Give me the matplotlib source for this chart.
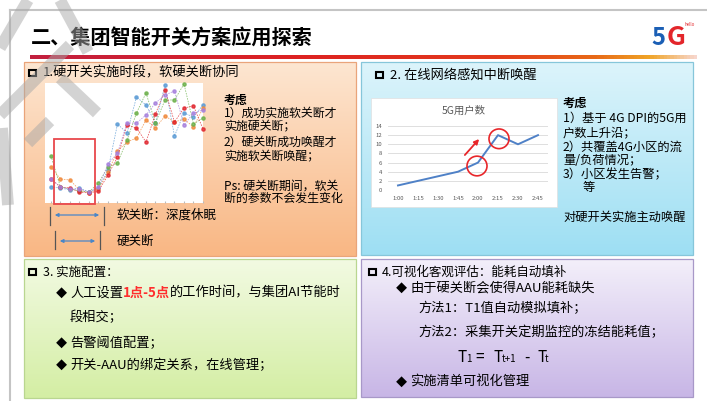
import numpy as np
import matplotlib.pyplot as plt
from matplotlib.patches import Rectangle, Ellipse, FancyArrowPatch
from matplotlib.colors import to_rgb

plt.rcParams['font.family'] = ['Noto Sans CJK SC', 'DejaVu Sans']

W, H = 707, 401

# ---- data: left chart (17 samples per cell, arbitrary load units)
samples = np.arange(17)
cell_blue = [16, 15, 13, 15, 11, 15, 33, 79, 70, 106, 98, 80, 118, 67, 90, 86, 98]
cell_orange = [36, 24, 23, 13, 10, 14, 31, 52, 61, 65, 83, 75, 87, 81, 84, 76, 95]
cell_green = [47, 16, 14, 12, 11, 20, 36, 40, 63, 90, 110, 80, 103, 103, 119, 79, 85]
cell_red = [24, 16, 15, 11, 10, 12, 28, 46, 78, 75, 61, 89, 113, 81, 95, 97, 74]
cell_purple = [24, 16, 14, 14, 11, 16, 39, 50, 80, 80, 88, 100, 108, 112, 78, 90, 93]
cell_colors = ['#5b9bd5', '#f08a3c', '#6bb04a', '#e0262e', '#a57fdc']
sleep_span = (0, 5)   # samples inside the shutdown window

# ---- data: right chart
times = ['1:00', '1:15', '1:30', '1:45', '2:00', '2:15', '2:30', '2:45']
users_5g = [1, 2, 3, 4, 6, 12, 10, 12]
wake_points = [4, 5]   # circled samples

fig = plt.figure(figsize=(W / 100, H / 100), dpi=100)
bg = fig.add_axes([0, 0, 1, 1])
bg.axis('off')


def px_axes(x0, y0, x1, y1):
    return fig.add_axes([x0 / W, 1 - y1 / H, (x1 - x0) / W, (y1 - y0) / H])


def vgrad(x0, y0, x1, y1, top, bottom, edge=None):
    c0, c1 = np.array(to_rgb(top)), np.array(to_rgb(bottom))
    t = np.linspace(0, 1, 64)[:, None, None]
    img = c0 * (1 - t) + c1 * t
    bg.imshow(img, extent=(x0, x1, y1, y0), origin='upper', aspect='auto',
              interpolation='bilinear', zorder=1)
    if edge:
        bg.add_patch(Rectangle((x0, y0), x1 - x0, y1 - y0, fill=False, ec=edge, lw=0.9, zorder=2))


def say(x, y, s, size=9.5, **kw):
    return bg.text(x, y, s, fontsize=size, va='center', ha='left', zorder=5, **kw)


def checkbox(x, y, s=6.5):
    bg.add_patch(Rectangle((x, y - s / 2), s, s, fill=False, ec='black', lw=1.5, zorder=5))


# frame + header
bg.plot([10, W], [10, 10], color='#c4c4c4', lw=1.5, zorder=2)
bg.plot([10, 10], [10, H], color='#c4c4c4', lw=1.5, zorder=2)
say(31, 37, '二、集团智能开关方案应用探索', size=14.5, fontweight='bold')

stops = np.array([to_rgb(c) for c in ['#c21f3f', '#dd2222', '#e33a1c', '#e86a18', '#f0a426', '#f7d6cc']])
pos = np.array([0, 0.4, 0.7, 0.85, 0.93, 1.0])
tt = np.linspace(0, 1, 200)
bar = np.stack([np.interp(tt, pos, stops[:, k]) for k in range(3)], axis=-1)[None, :, :]
bg.imshow(bar, extent=(30, 697, 59, 55), origin='upper', aspect='auto', zorder=2)

# 5G logo
bg.text(651, 45, '5', color='#1b5fb5', fontsize=17, fontweight='bold', va='baseline', zorder=5)
bg.text(667, 45, 'G', color='#e3262b', fontsize=19, fontweight='bold', va='baseline', zorder=5)
bg.text(685, 26, 'hello', color='#e3262b', fontsize=3.2, va='baseline', zorder=6)

# panels
vgrad(24, 62, 356, 256, '#fde6d1', '#f9b784', '#e9a47a')
vgrad(361, 62, 693, 255, '#dcf4fb', '#9edff3', '#86c6da')
vgrad(24, 259, 356, 398, '#f2fae2', '#d4eea4', '#b9d690')
vgrad(361, 259, 693, 397, '#f3effa', '#c8b6e6', '#a898c8')

# ---- panel 1
checkbox(29, 73)
say(43, 73, '1.硬开关实施时段，软硬关断协同', size=9.5)
say(224, 100, '考虑', size=8.6, fontweight='bold')
for y, s in zip([113, 127, 142, 157, 186, 198],
                ['1）成功实施软关断才', '实施硬关断；', '2）硬关断成功唤醒才',
                 '实施软关断唤醒；', 'Ps: 硬关断期间，软关', '断的参数不会发生变化']):
    say(224, y, s, size=8.6)

ax1 = px_axes(45, 83, 203, 203)
for vals, c in zip([cell_blue, cell_orange, cell_green, cell_red, cell_purple], cell_colors):
    ax1.plot(samples, vals, ls=(0, (2, 1.5)), lw=0.55, color=c, alpha=0.8,
             marker='o', ms=2.3, mec=c, mfc=c, clip_on=False)
ax1.set_xlim(-0.63, 16.0)
ax1.set_ylim(0, 120)
ax1.set_xticks(samples)
ax1.set_xticklabels([])
ax1.set_yticks([])
ax1.tick_params(axis='x', direction='in', length=1.5, color='#bbbbbb', width=0.8)
for sp in ax1.spines.values():
    sp.set_visible(False)
ax1.add_patch(Rectangle((sleep_span[0] + 0.32, -1), sleep_span[1] - 0.68, 65, fill=False,
                        ec='#e8484c', lw=1.3, clip_on=False, zorder=6))

# span arrows under chart
for (xa, xb, y0, y1, ya), label in zip([(50, 104, 207, 225, 215), (55, 100, 231, 249, 241)],
                                        ['软关断：深度休眠', '硬关断']):
    bg.plot([xa, xa], [y0, y1], color='#555555', lw=0.9, zorder=5)
    bg.plot([xb, xb], [y0, y1], color='#555555', lw=0.9, zorder=5)
    bg.add_patch(FancyArrowPatch((xa + 2, ya), (xb - 2, ya), arrowstyle='<|-|>', mutation_scale=5,
                                 color='#4a86c8', lw=0.9, zorder=5))
    say(117, ya, label, size=9)

# ---- panel 2
checkbox(376, 75)
say(390, 75, '2. 在线网络感知中断唤醒', size=9.5)
say(563, 103, '考虑', size=8.8, fontweight='bold')
for y, s in zip([118, 133, 147, 160, 175, 217],
                ['1）基于 4G DPI的5G用', '户数上升沿；', '2）共覆盖4G小区的流',
                 '量/负荷情况；', '3）小区发生告警；', '对硬开关实施主动唤醒']):
    say(563, y, s, size=8.8)
say(583, 188, '等', size=8.8)

bg.add_patch(Rectangle((371, 98), 186, 109, fc='white', ec='#e0e0e0', lw=0.5, zorder=3))
bg.text(464, 111, '5G用户数', fontsize=7.5, color='#595959', ha='center', va='center', zorder=5)
ax2 = px_axes(388, 126, 548, 190)
ax2.patch.set_alpha(0)
xs = np.arange(len(times))
ax2.plot(xs, users_5g, color='#4f81c7', lw=1.4, zorder=3)
ax2.set_xlim(-0.5, len(times) - 0.5)
ax2.set_ylim(0, 14)
ax2.set_yticks(range(0, 15, 2))
ax2.set_xticks(xs)
ax2.set_xticklabels(times)
ax2.tick_params(length=0, labelsize=4.3, labelcolor='#595959', pad=4)
ax2.grid(axis='y', color='#d9d9d9', lw=0.6)
ax2.set_axisbelow(True)
for sp in ax2.spines.values():
    sp.set_visible(False)
for i, (dx, dy) in zip(wake_points, [(-0.05, -0.75), (0.05, -0.8)]):
    ax2.add_patch(Ellipse((i + dx, users_5g[i] + dy), 1.0, 4.3, fill=False, ec='#e8262a',
                          lw=1.2, clip_on=False, zorder=4))
ax2.annotate('', xy=(4.15, 11.6), xytext=(3.25, 7.2),
             arrowprops=dict(arrowstyle='-|>', color='#e8262a', lw=1.3, mutation_scale=7),
             annotation_clip=False)

# ---- panel 3
checkbox(29, 272)
say(43, 272, '3. 实施配置：', size=9)
for y in [293, 343, 365]:
    say(56, y, '◆', size=8)
t1 = say(70, 293, '人工设置', size=9.5)
t2 = bg.annotate('1点-5点', xy=(1, 0), xycoords=t1, va='bottom', ha='left', fontsize=9.5,
                 color='#ff2d2d', fontweight='bold', zorder=5)
bg.annotate('的工作时间，与集团AI节能时', xy=(1, 0), xycoords=t2, va='bottom', ha='left',
            fontsize=9.5, zorder=5)
say(70, 317, '段相交；')
say(70, 343, '告警阈值配置；')
say(70, 365, '开关-AAU的绑定关系，在线管理；')

# ---- panel 4
checkbox(369, 272)
say(382, 272, '4.可视化客观评估：能耗自动填补', size=9)
say(396, 288, '◆', size=8)
say(410, 288, '由于硬关断会使得AAU能耗缺失')
say(418, 308, '方法1：T1值自动模拟填补；')
say(418, 332, '方法2：采集开关定期监控的冻结能耗值；')
for x, s, fs in [(457, 'T', 11), (466, '1', 7), (475, '=', 11), (494, 'T', 11), (502, 't+1', 7),
                 (524, '-', 11), (537, 'T', 11), (545, 't', 7)]:
    bg.text(x, 362, s, fontsize=fs, va='baseline', ha='left', zorder=5)
say(396, 382, '◆', size=8)
say(410, 382, '实施清单可视化管理')

bg.set_xlim(0, W)
bg.set_ylim(H, 0)

# ---- watermark strokes on top
wm = fig.add_axes([0, 0, 1, 1])
wm.patch.set_alpha(0)
wm.axis('off')
for (xa, ya), (xb, yb) in [((0, 48), (28, 0)), ((60, 0), (88, 52)), ((0, 115), (70, 45)),
                           ((60, 78), (97, 113)), ((28, 143), (50, 121)), ((2, 128), (8, 205))]:
    wm.plot([xa, xb], [ya, yb], color='#a8a8a8', alpha=0.5, lw=8.5, solid_capstyle='butt')
wm.set_xlim(0, W)
wm.set_ylim(H, 0)

fig.savefig('out.png', dpi=100)
